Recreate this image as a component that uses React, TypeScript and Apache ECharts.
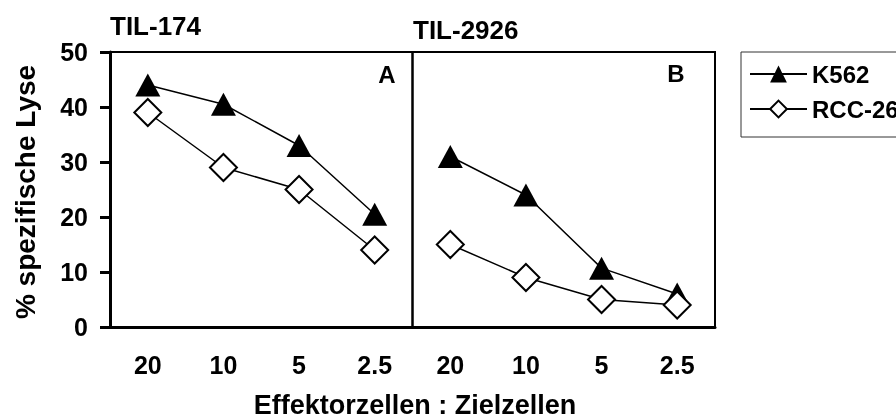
import React, { useEffect, useRef } from "react";
import * as echarts from "echarts";

const categories = ["20", "10", "5", "2.5"];
const k562A = [44, 40.5, 33, 20.5];
const rccA = [39, 29, 25, 14];
const k562B = [31, 24, 10.7, 6];
const rccB = [15, 9, 5, 4];
const yTicks = { min: 0, max: 50, interval: 10 };

const FONT = "'Liberation Sans', Arial, sans-serif";

export default function App() {
  const ref = useRef<HTMLDivElement>(null);
  useEffect(() => {
    const chart = echarts.init(ref.current!, null, { renderer: "svg" });
    const lineStyle = { color: "#000", width: 1.5 };
    const triStyle = { color: "#000" };
    const diaStyle = { color: "#fff", borderColor: "#000", borderWidth: 2 };
    const grids = [
      { left: 110, top: 52, width: 302.5, height: 275 },
      { left: 412.5, top: 52, width: 302.5, height: 275 },
    ];
    chart.setOption({
      animation: false,
      grid: grids.map((g) => ({ ...g, show: true, borderColor: "#000", borderWidth: 2, backgroundColor: "transparent" })),
      xAxis: [0, 1].map((i) => ({
        type: "category",
        gridIndex: i,
        data: categories,
        boundaryGap: true,
        axisLine: { show: true, lineStyle: { color: "#000", width: 3 } },
        axisTick: { show: false },
        axisLabel: { color: "#000", fontFamily: FONT, fontWeight: "bold", fontSize: 25, margin: 25 },
        splitLine: { show: false },
      })),
      yAxis: [0, 1].map((i) => ({
        type: "value",
        gridIndex: i,
        min: yTicks.min,
        max: yTicks.max,
        interval: yTicks.interval,
        axisLine: { show: i === 0, lineStyle: { color: "#000", width: 3 } },
        axisTick: { show: i === 0, length: 10, lineStyle: { color: "#000", width: 3 } },
        axisLabel: { show: i === 0, color: "#000", fontFamily: FONT, fontWeight: "bold", fontSize: 25, margin: 22 },
        splitLine: { show: false },
      })),
      legend: {
        orient: "vertical",
        left: 741,
        top: 52,
        data: ["K562", "RCC-26"],
        itemWidth: 57,
        itemHeight: 21,
        itemGap: 11,
        padding: [10, 80, 16, 8],
        borderColor: "#333",
        borderWidth: 1,
        textStyle: { color: "#000", fontFamily: FONT, fontWeight: "bold", fontSize: 24, lineHeight: 22 },
      },
      graphic: [
        { type: "text", x: 110, y: 26, style: { text: "TIL-174", font: `bold 26px ${FONT}`, fill: "#000", align: "left", verticalAlign: "middle" } },
        { type: "text", x: 413, y: 30, style: { text: "TIL-2926", font: `bold 26px ${FONT}`, fill: "#000", align: "left", verticalAlign: "middle" } },
        { type: "text", x: 387, y: 74, style: { text: "A", font: `bold 24px ${FONT}`, fill: "#000", align: "center", verticalAlign: "middle" } },
        { type: "text", x: 676, y: 73, style: { text: "B", font: `bold 24px ${FONT}`, fill: "#000", align: "center", verticalAlign: "middle" } },
        { type: "text", x: 415, y: 405, style: { text: "Effektorzellen : Zielzellen", font: `bold 27px ${FONT}`, fill: "#000", align: "center", verticalAlign: "middle" } },
        { type: "text", x: 25, y: 192, rotation: Math.PI / 2, style: { text: "% spezifische Lyse", font: `bold 28px ${FONT}`, fill: "#000", align: "center", verticalAlign: "middle" } },
      ],
      series: [
        { name: "K562", type: "line", xAxisIndex: 0, yAxisIndex: 0, data: k562A, symbol: "triangle", symbolSize: [25, 23], itemStyle: triStyle, lineStyle },
        { name: "RCC-26", type: "line", xAxisIndex: 0, yAxisIndex: 0, data: rccA, symbol: "diamond", symbolSize: 27, itemStyle: diaStyle, lineStyle },
        { name: "K562", type: "line", xAxisIndex: 1, yAxisIndex: 1, data: k562B, symbol: "triangle", symbolSize: [25, 23], itemStyle: triStyle, lineStyle },
        { name: "RCC-26", type: "line", xAxisIndex: 1, yAxisIndex: 1, data: rccB, symbol: "diamond", symbolSize: 27, itemStyle: diaStyle, lineStyle },
      ],
    });
    return () => chart.dispose();
  }, []);
  return <div ref={ref} style={{ position: "fixed", left: 0, top: 0, width: 896, height: 419 }} />;
}
